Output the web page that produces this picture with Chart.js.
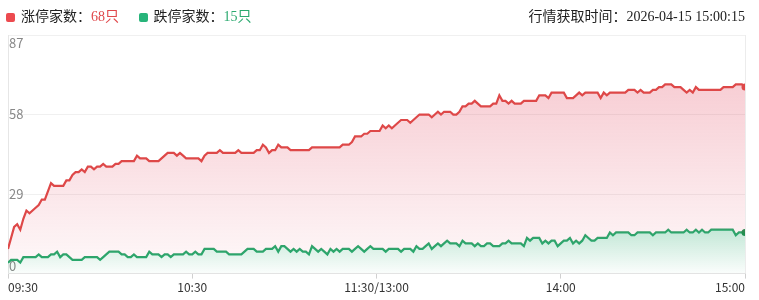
<!DOCTYPE html>
<html>
<head>
<meta charset="utf-8">
<script src="https://cdn.jsdelivr.net/npm/chart.js@4.4.1/dist/chart.umd.min.js"></script>
<style>
    html, body { margin: 0; padding: 0; background: #fff; }
    #wrap { position: relative; width: 759px; height: 300px; }
    #chart { position: absolute; left: 0; top: 0; }
    .legend { position: absolute; top: 8px; font: 14px "Liberation Serif", "Noto Sans CJK SC", serif; color: #222; white-space: nowrap; line-height: 18px; }
    .legend .dot { display: inline-block; width: 9px; height: 9px; border-radius: 2px; margin-right: 6px; vertical-align: -1px; }
    .legend .item { margin-right: 16px; }
</style>
</head>
<body>
<div id="wrap">
    <canvas id="chart" width="759" height="300"></canvas>
    <div class="legend" style="left:6px">
        <span class="item"><span class="dot" style="background:#ec4a4f"></span>涨停家数：<span style="color:#e0484b">68只</span></span>
        <span class="item"><span class="dot" style="background:#27b47a"></span>跌停家数：<span style="color:#2aa96f">15只</span></span>
    </div>
    <div class="legend" style="right:14px">行情获取时间：2026-04-15 15:00:15</div>
</div>
<script>
// minute index 0..240 (09:30-11:30, 13:00-15:00)
const xTickPos = [0, 60, 120, 180, 240];
const xTickLabels = ["09:30", "10:30", "11:30/13:00", "14:00", "15:00"];
const yTicks = [0, 29, 58, 87];

// 涨停家数
const limitUp = [
    9, 13, 17, 18, 16, 20, 23, 22, 23, 24,
    25, 27, 27, 30, 33, 32, 32, 32, 32, 34,
    34, 36, 37, 37, 38, 37, 39, 39, 38, 39,
    39, 40, 39, 39, 39, 40, 40, 41, 41, 41,
    41, 41, 43, 42, 42, 42, 41, 41, 41, 41,
    42, 43, 44, 44, 44, 43, 44, 43, 42, 42,
    42, 42, 42, 41, 43, 44, 44, 44, 44, 45,
    44, 44, 44, 44, 44, 45, 44, 44, 44, 44,
    44, 45, 45, 47, 46, 44, 45, 45, 47, 46,
    46, 46, 45, 45, 45, 45, 45, 45, 45, 46,
    46, 46, 46, 46, 46, 46, 46, 46, 46, 47,
    47, 47, 48, 50, 50, 50, 51, 51, 52, 52,
    52, 52, 54, 53, 54, 53, 54, 55, 56, 56,
    56, 55, 56, 57, 58, 58, 58, 58, 57, 58,
    59, 58, 59, 59, 59, 58, 58, 59, 61, 61,
    62, 62, 63, 62, 61, 61, 61, 61, 62, 62,
    65, 63, 63, 62, 63, 62, 62, 62, 63, 63,
    63, 63, 63, 65, 65, 65, 64, 66, 66, 66,
    66, 66, 64, 64, 64, 65, 66, 65, 66, 66,
    66, 66, 66, 64, 66, 65, 66, 66, 66, 66,
    66, 66, 67, 67, 67, 66, 67, 66, 66, 66,
    67, 67, 68, 68, 69, 69, 69, 68, 68, 68,
    67, 66, 67, 66, 68, 67, 67, 67, 67, 67,
    67, 67, 67, 68, 68, 68, 68, 69, 69, 69,
    68
];

// 跌停家数
const limitDown = [
    4, 5, 5, 5, 4, 6, 6, 6, 6, 6,
    7, 6, 6, 6, 7, 7, 8, 6, 7, 7,
    6, 5, 5, 5, 5, 6, 6, 6, 6, 6,
    5, 6, 7, 8, 8, 8, 8, 7, 7, 6,
    6, 7, 6, 6, 6, 6, 8, 7, 7, 7,
    6, 7, 7, 6, 7, 7, 7, 7, 8, 7,
    7, 8, 7, 7, 9, 9, 9, 9, 8, 8,
    8, 8, 7, 7, 7, 7, 7, 8, 9, 9,
    9, 8, 8, 8, 9, 9, 9, 10, 8, 10,
    10, 9, 8, 9, 8, 9, 8, 8, 7, 10,
    9, 8, 9, 8, 7, 9, 8, 9, 8, 9,
    9, 9, 8, 9, 10, 9, 8, 9, 10, 9,
    9, 9, 9, 8, 9, 9, 9, 9, 8, 9,
    9, 9, 8, 10, 9, 9, 10, 11, 9, 10,
    11, 10, 11, 12, 11, 11, 11, 10, 12, 11,
    11, 11, 10, 11, 10, 10, 11, 11, 10, 10,
    10, 11, 11, 12, 11, 11, 11, 11, 10, 13,
    12, 13, 13, 13, 11, 12, 11, 12, 12, 10,
    11, 12, 12, 13, 11, 12, 11, 12, 14, 13,
    12, 12, 13, 13, 13, 13, 15, 14, 15, 15,
    15, 15, 15, 14, 14, 15, 15, 15, 15, 15,
    14, 15, 15, 15, 15, 16, 15, 15, 15, 15,
    15, 16, 15, 15, 16, 15, 16, 15, 15, 16,
    16, 16, 16, 16, 16, 16, 16, 14, 15, 15,
    15
];

document.addEventListener("DOMContentLoaded", function () {
    const axisFont = { size: 12, family: "'Microsoft YaHei', 'Noto Sans CJK SC', sans-serif" };
    const lastIndex = limitUp.length - 1;

    // vertical gradients for the two areas
    function redFill(context) {
        const { ctx, chartArea } = context.chart;
        if (!chartArea) return "rgba(232,80,100,0.15)";
        const g = ctx.createLinearGradient(0, chartArea.top, 0, chartArea.bottom);
        g.addColorStop(0, "rgba(226,68,92,0.32)");
        g.addColorStop(1, "rgba(226,68,92,0.03)");
        return g;
    }

    function greenFill(context) {
        const { ctx, chartArea, scales } = context.chart;
        if (!chartArea) return "rgba(40,170,110,0.15)";
        const g = ctx.createLinearGradient(0, scales.y.getPixelForValue(16), 0, chartArea.bottom);
        g.addColorStop(0, "rgba(40,170,110,0.28)");
        g.addColorStop(1, "rgba(40,170,110,0.02)");
        return g;
    }

    const endPoint = ctx => (ctx.dataIndex === lastIndex ? 3.5 : 0);

    new Chart(document.getElementById("chart").getContext("2d"), {
        type: "line",
        data: {
            datasets: [{
                label: "涨停家数",
                data: limitUp.map((v, i) => ({ x: i, y: v })),
                borderColor: "#de4848",
                backgroundColor: redFill,
                borderWidth: 2.2,
                fill: "+1",
                pointRadius: endPoint,
                pointBackgroundColor: "#de4848",
                pointBorderWidth: 0
            }, {
                label: "跌停家数",
                data: limitDown.map((v, i) => ({ x: i, y: v })),
                borderColor: "#28a86c",
                backgroundColor: greenFill,
                borderWidth: 2.2,
                fill: "origin",
                pointRadius: endPoint,
                pointBackgroundColor: "#1f8f4f",
                pointBorderWidth: 0
            }]
        },
        options: {
            responsive: false,
            animation: false,
            layout: { padding: { left: 6, right: 14, top: 35, bottom: 3 } },
            elements: { line: { tension: 0 } },
            plugins: {
                legend: { display: false },
                tooltip: { enabled: false }
            },
            scales: {
                x: {
                    type: "linear",
                    min: 0,
                    max: 240,
                    afterBuildTicks: axis => { axis.ticks = xTickPos.map(v => ({ value: v })); },
                    ticks: {
                        align: "inner",
                        autoSkip: false,
                        maxRotation: 0,
                        padding: 2,
                        color: "#333",
                        font: axisFont,
                        callback: v => xTickLabels[xTickPos.indexOf(v)]
                    },
                    grid: {
                        color: ctx => (ctx.tick && (ctx.tick.value === 0 || ctx.tick.value === 240)) ? "#ececec" : "rgba(0,0,0,0)",
                        tickColor: "#d0d0d0",
                        tickLength: 5
                    },
                    border: { color: "#e3e3e3" }
                },
                y: {
                    min: 0,
                    max: 87,
                    afterBuildTicks: axis => { axis.ticks = yTicks.map(v => ({ value: v })); },
                    ticks: {
                        mirror: true,
                        padding: 1,
                        color: "#888",
                        font: { size: 13, family: axisFont.family },
                        // push first/last label inside the plot
                        callback: v => v === 87 ? ["", "87"] : (v === 0 ? ["0", ""] : String(v))
                    },
                    grid: { color: "#f0f0f0", drawTicks: false },
                    border: { color: "#e6e6e6" }
                }
            }
        }
    });
});
</script>
</body>
</html>
